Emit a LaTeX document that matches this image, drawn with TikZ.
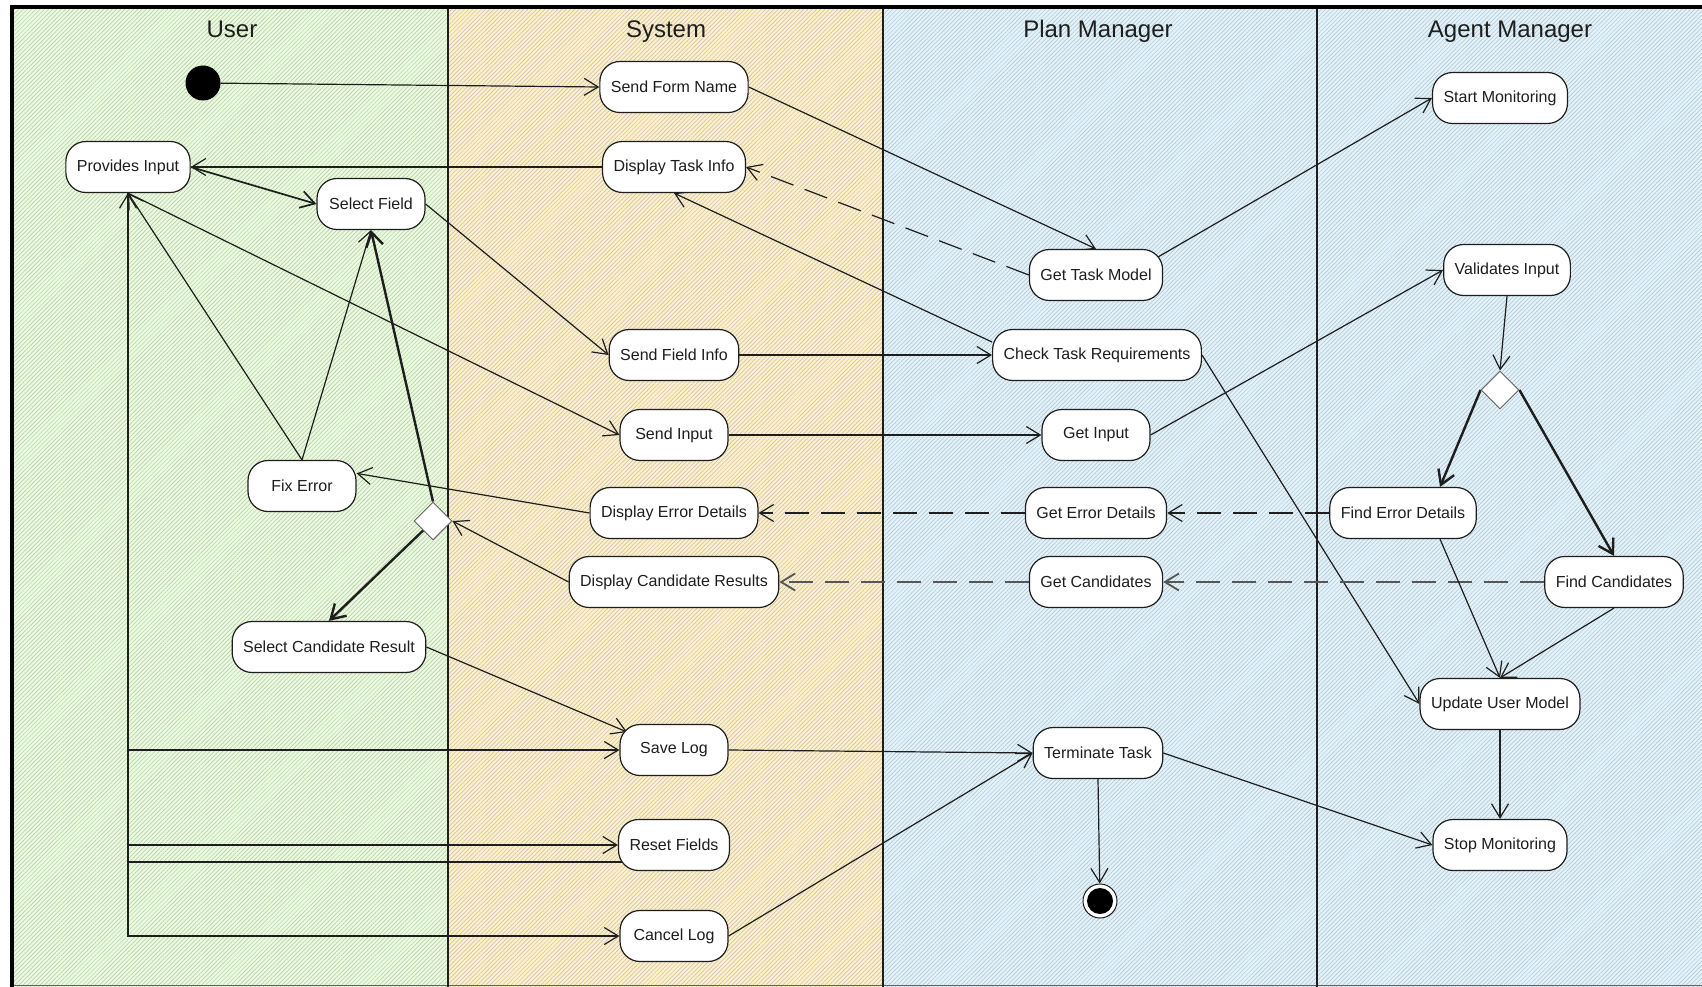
\documentclass[tikz,border=0pt]{standalone}
\usepackage{fontspec}
\setmainfont{Liberation Sans}
\usetikzlibrary{arrows.meta,shapes.geometric,patterns.meta}

\definecolor{usergreen}{RGB}{230,253,215}
\definecolor{sysorange}{RGB}{255,239,196}
\definecolor{mgrblue}{RGB}{222,243,254}
\definecolor{hatch}{RGB}{190,190,190}
\definecolor{ink}{RGB}{30,30,30}

\pgfdeclarelayer{lanes}
\pgfdeclarelayer{flows}
\pgfsetlayers{lanes,flows,main}

\begin{document}
\begin{tikzpicture}[x=1pt,y=-1pt,
  act/.style={draw=ink, line width=1.2pt, fill=white, rounded corners=20pt,
    minimum width=108pt, minimum height=51pt, inner xsep=11pt, inner ysep=0pt,
    font=\fontsize{16}{19}\selectfont, text=ink},
  lanetitle/.style={anchor=base, font=\fontsize{24}{28}\selectfont, text=ink},
  decision/.style={diamond, draw=ink!70, line width=0.9pt, fill=white,
    minimum size=38pt, inner sep=0pt},
  flow/.style={draw=ink, line width=1.2pt, -{Straight Barb[length=14pt,width=17pt]}},
  boldflow/.style={flow, line width=2.4pt},
  signal/.style={flow, dash pattern=on 24pt off 12pt},
  greysignal/.style={signal, draw=ink!75, line width=1.8pt}
]
\useasboundingbox (0,0) rectangle (1702,987);

% swimlanes
\begin{pgfonlayer}{lanes}
  \fill[usergreen] (12,7) rectangle (448,987);
  \fill[sysorange] (448,7) rectangle (883,987);
  \fill[mgrblue]   (883,7) rectangle (1702,987);
  \fill[pattern={Lines[angle=45,distance=3pt,line width=0.5pt]}, pattern color=hatch]
    (12,7) rectangle (1702,987);
  \draw[ink!70, line width=0.8pt] (12,985) -- (1702,985);
  \draw[ink, line width=2.4pt] (448,7) -- (448,987);
  \draw[ink, line width=2.4pt] (883,7) -- (883,987);
  \draw[ink, line width=1.6pt] (1317,7) -- (1317,987);
  \draw[black, line width=4.5pt] (12,987) -- (12,7) -- (1702,7);
\end{pgfonlayer}

\node[lanetitle] (hUser)  at (232,38)  {User};
\node[lanetitle] (hSys)   at (666,38)  {System};
\node[lanetitle] (hPlan)  at (1098,38) {Plan Manager};
\node[lanetitle] (hAgent) at (1510,38) {Agent Manager};

% activities
\node[circle, fill=black, minimum size=35pt, inner sep=0pt] (start) at (203,83) {};
\node[act] (sfn)   at (674,87)   {Send Form Name};
\node[act] (dti)   at (674,167)  {Display Task Info};
\node[act] (pi)    at (128,167)  {Provides Input};
\node[act] (sf)    at (371,204)  {Select Field};
\node[act] (gtm)   at (1096,275) {Get Task Model};
\node[act] (smon)  at (1500,98)  {Start Monitoring};
\node[act] (vi)    at (1507,270) {Validates Input};
\node[act] (sfi)   at (674,355)  {Send Field Info};
\node[act] (ctr)   at (1097,355) {Check Task Requirements};
\node[act] (si)    at (674,435)  {Send Input};
\node[act] (gi)    at (1096,435) {Get Input};
\node[decision] (dia2) at (1500,390) {};
\node[act] (fe)    at (302,486)  {Fix Error};
\node[act] (ded)   at (674,513)  {Display Error Details};
\node[act] (ged)   at (1096,513) {Get Error Details};
\node[act] (fed)   at (1403,513) {Find Error Details};
\node[decision] (dia1) at (433,521) {};
\node[act] (dcr)   at (674,582)  {Display Candidate Results};
\node[act] (gc)    at (1096,582) {Get Candidates};
\node[act] (fc)    at (1614,582) {Find Candidates};
\node[act] (scr)   at (329,647)  {Select Candidate Result};
\node[act] (uum)   at (1500,704) {Update User Model};
\node[act] (sl)    at (674,750)  {Save Log};
\node[act] (tt)    at (1098,753) {Terminate Task};
\node[act] (rf)    at (674,845)  {Reset Fields};
\node[act] (stopm) at (1500,845) {Stop Monitoring};
\node[act] (cl)    at (674,936)  {Cancel Log};
\node[circle, draw=ink, line width=1pt, fill=white, minimum size=34pt, inner sep=0pt,
  path picture={\fill[black] (path picture bounding box.center) circle (13pt);}]
  (finish) at (1100,901) {};

% control and object flows
\begin{pgfonlayer}{flows}
  \draw[flow] (start) -- (sfn.west);
  \draw[flow] (sfn.east) -- (gtm.north);
  \draw[flow] ([shift={(62,-18)}]gtm.center) -- (smon.west);
  \draw[signal] (gtm.west) -- (dti.east);
  \draw[flow] (dti.west) -- (pi.east);
  \draw[flow, line width=1.7pt] (pi.east) -- (sf.west);
  \draw[flow] (sf.east) -- (sfi.west);
  \draw[flow] (sfi.east) -- (ctr.west);
  \draw[flow] ([shift={(-105,-13)}]ctr.center) -- (dti.south);
  \draw[flow] (ctr.east) -- (uum.west);
  \draw[flow] (pi.south) -- (si.west);
  \draw[flow] (pi.south) |- (sl.west);
  \draw[flow] (pi.south) |- (rf.west);
  \draw[flow] (pi.south) |- (cl.west);
  \draw[flow] ([shift={(-52,17)}]rf.center) -| (pi.south);
  \draw[flow] (fe.north) -- (pi.south);
  \draw[flow] (fe.north) -- (sf.south);
  \draw[boldflow] (dia1.north) -- (sf.south);
  \draw[boldflow] (dia1) -- (scr.north);
  \draw[flow] (ded.west) -- (fe.13);
  \draw[flow] (dcr.west) -- (dia1.east);
  \draw[signal] (ged.west) -- (ded.east);
  \draw[signal] (fed.west) -- (ged.east);
  \draw[greysignal] (gc.west) -- (dcr.east);
  \draw[greysignal] (fc.west) -- (gc.east);
  \draw[flow] (si.east) -- (gi.west);
  \draw[flow] (gi.east) -- (vi.west);
  \draw[flow] (vi.south) -- (dia2.north);
  \draw[boldflow] (dia2.west) -- ([xshift=37pt]fed.north);
  \draw[boldflow] (dia2.east) -- (fc.north);
  \draw[flow] ([xshift=37pt]fed.south) -- (uum.north);
  \draw[flow] (fc.south) -- (uum.north);
  \draw[flow] (uum.south) -- (stopm.north);
  \draw[flow] (tt.east) -- (stopm.west);
  \draw[flow] (tt.south) -- (finish);
  \draw[flow] (sl.east) -- (tt.west);
  \draw[flow] (cl.east) -- (tt.west);
  \draw[flow] (scr.east) -- ([shift={(-47,-18)}]sl.center);
\end{pgfonlayer}
\end{tikzpicture}
\end{document}
